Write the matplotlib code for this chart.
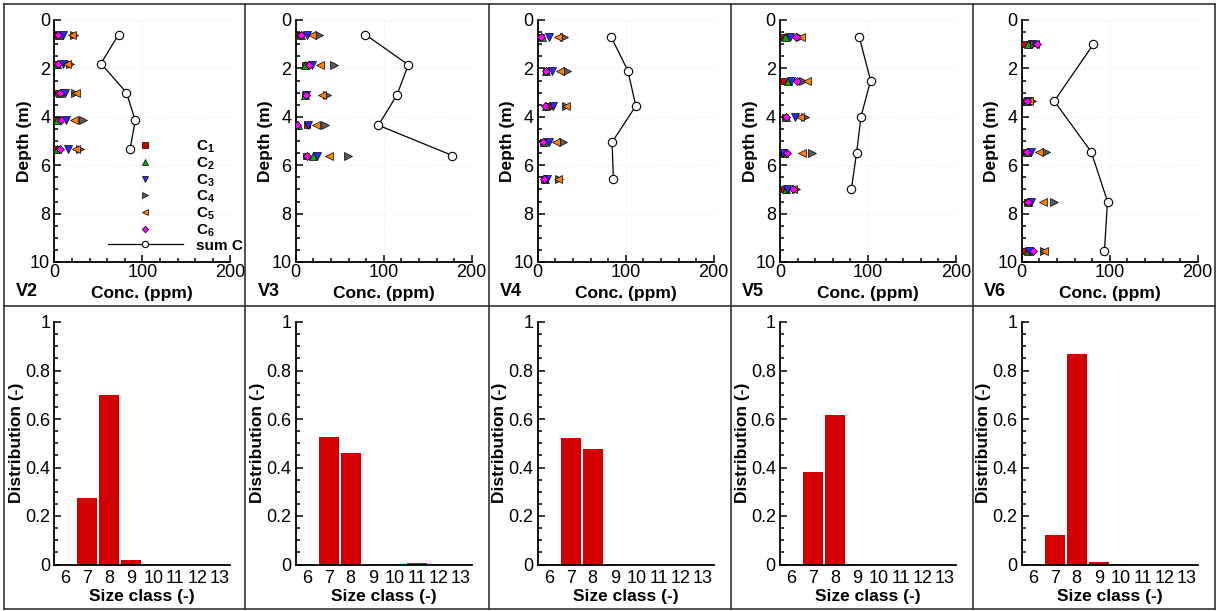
import matplotlib
matplotlib.use("Agg")
import matplotlib.pyplot as plt
from matplotlib.lines import Line2D
from matplotlib.ticker import MultipleLocator

plt.rcParams['font.family'] = ['Liberation Sans', 'DejaVu Sans']
plt.rcParams['mathtext.fontset'] = 'custom'
plt.rcParams['mathtext.rm'] = 'Liberation Sans'
plt.rcParams['mathtext.bf'] = 'Liberation Sans:bold'

# ---------------- data ----------------
stations = ["V2", "V3", "V4", "V5", "V6"]

depth_V2 = [0.6, 1.8, 3.0, 4.15, 5.35]
depth_V3 = [0.6, 1.85, 3.1, 4.35, 5.6]
depth_V4 = [0.7, 2.1, 3.55, 5.05, 6.55]
depth_V5 = [0.7, 2.5, 4.0, 5.5, 7.0]
depth_V6 = [1.0, 3.35, 5.45, 7.5, 9.55]

C1_V2 = [3, 1, 4, 1.5, 1.5]
C2_V2 = [5, 3, 6, 3, 3]
C3_V2 = [10, 10, 12, 13, 15]
C4_V2 = [22, 18, 23.5, 33, 29]
C5_V2 = [20, 14, 25, 22, 25]
C6_V2 = [4.5, 4, 6, 8, 6.5]
sumC_V2 = [73, 53, 82, 92, 86]

C1_V3 = [5, 10, 10, 13, 12]
C2_V3 = [6, 10.5, 11, 3, 20]
C3_V3 = [12.5, 18, 12, 14, 24]
C4_V3 = [27, 43, 35, 33, 59]
C5_V3 = [19, 27.5, 29.5, 23, 38]
C6_V3 = [6, 15, 11.5, 1, 12.5]
sumC_V3 = [79, 128, 115, 94, 178]

C1_V4 = [4, 9, 13, 6, 7]
C2_V4 = [5, 9, 9, 7, 8]
C3_V4 = [13.3, 16, 17.8, 13.3, 11]
C4_V4 = [30, 33.8, 32, 28.5, 24]
C5_V4 = [22.8, 25.4, 32, 20.5, 23.5]
C6_V4 = [3.8, 9, 8.3, 6.5, 7.6]
sumC_V4 = [83.5, 102.5, 111.5, 84.5, 86]

C1_V5 = [5, 3.8, 6, 3, 4.9]
C2_V5 = [5.7, 8.7, 6.5, 4, 6.5]
C3_V5 = [11.4, 12.5, 17, 3.8, 8]
C4_V5 = [23, 26.6, 28.5, 36.8, 17.8]
C5_V5 = [23.5, 30.4, 22.8, 24.7, 15]
C6_V5 = [17.8, 19, 6.8, 8.3, 15.2]
sumC_V5 = [90, 103, 92, 87, 81]

C1_V6 = [3, 5, 5, 6, 3.8]
C2_V6 = [6.8, 6, 6, 7, 6.8]
C3_V6 = [12, 7, 10.6, 10.6, 8]
C4_V6 = [14, 11.4, 27.3, 36.7, 25.4]
C5_V6 = [15, 8, 20, 24.6, 25.4]
C6_V6 = [17.8, 5.7, 5.7, 7.6, 13.3]
sumC_V6 = [81.5, 37, 79, 97.5, 94]

size_classes = [6, 7, 8, 9, 10, 11, 12, 13]
dist_V2 = [0, 0.275, 0.70, 0.02, 0, 0, 0, 0]
dist_V3 = [0, 0.527, 0.46, 0, 0, 0.005, 0, 0]
dist_V4 = [0, 0.52, 0.478, 0, 0, 0, 0, 0]
dist_V5 = [0, 0.383, 0.615, 0, 0, 0, 0, 0]
dist_V6 = [0, 0.122, 0.868, 0.01, 0, 0, 0, 0]

series_labels = [r'$\mathbf{C}_\mathbf{1}$', r'$\mathbf{C}_\mathbf{2}$', r'$\mathbf{C}_\mathbf{3}$',
                 r'$\mathbf{C}_\mathbf{4}$', r'$\mathbf{C}_\mathbf{5}$', r'$\mathbf{C}_\mathbf{6}$']
sum_label = 'sum C'

profiles = {
    "V2": (depth_V2, [C1_V2, C2_V2, C3_V2, C4_V2, C5_V2, C6_V2], sumC_V2, dist_V2),
    "V3": (depth_V3, [C1_V3, C2_V3, C3_V3, C4_V3, C5_V3, C6_V3], sumC_V3, dist_V3),
    "V4": (depth_V4, [C1_V4, C2_V4, C3_V4, C4_V4, C5_V4, C6_V4], sumC_V4, dist_V4),
    "V5": (depth_V5, [C1_V5, C2_V5, C3_V5, C4_V5, C5_V5, C6_V5], sumC_V5, dist_V5),
    "V6": (depth_V6, [C1_V6, C2_V6, C3_V6, C4_V6, C5_V6, C6_V6], sumC_V6, dist_V6),
}

# ---------------- style ----------------
markers = ['s', '^', 'v', '>', '<', 'D']
colors = ['#cc0000', '#00a800', '#2a2aff', '#5a5a5a', '#ff8000', '#ff00ff']
msizes = [5, 5.5, 5.5, 5.5, 5.5, 4.5]
bar_color = '#d20000'

W, H = 1221, 611
fig = plt.figure(figsize=(W / 100, H / 100), dpi=100)

lefts_px = [54.3, 295.7, 537.7, 780, 1021.7]
ax_w_px = 176
top_ax = (20, 262)
bot_ax = (322, 564.5)

tick_fs = 13
lab_fs = 12.5


def style_axis(ax):
    for s in ['top', 'right']:
        ax.spines[s].set_visible(False)
    for s in ['left', 'bottom']:
        ax.spines[s].set_linewidth(1.3)
    ax.tick_params(which='both', direction='in', width=1.1, labelsize=tick_fs)
    ax.tick_params(which='major', length=5)
    ax.tick_params(which='minor', length=3)
    ax.tick_params(axis='x', pad=1.5)
    ax.tick_params(axis='y', pad=3)


for i, st in enumerate(stations):
    depth, cs, sumc, dist = profiles[st]
    l = lefts_px[i] / W
    w = ax_w_px / W

    # ---- top: concentration profile ----
    ax = fig.add_axes([l, 1 - top_ax[1] / H, w, (top_ax[1] - top_ax[0]) / H])
    style_axis(ax)
    ax.set_xlim(0, 200)
    ax.set_ylim(10, 0)
    ax.xaxis.set_major_locator(MultipleLocator(100))
    ax.xaxis.set_minor_locator(MultipleLocator(20))
    ax.yaxis.set_major_locator(MultipleLocator(2))
    ax.yaxis.set_minor_locator(MultipleLocator(0.5))
    ax.grid(True, which='major', color='#f0f0f0', lw=0.8, ls=(0, (2, 2)))
    ax.set_axisbelow(True)
    handles = []
    for k in range(6):
        h, = ax.plot(cs[k], depth, ls='none', marker=markers[k], ms=msizes[k],
                     mfc=colors[k], mec='black', mew=0.5, zorder=3 + k)
        handles.append(h)
    hs, = ax.plot(sumc, depth, color='black', lw=0.9, marker='o', ms=6,
                  mfc='white', mec='black', mew=0.8, zorder=10)
    handles.append(hs)
    ax.set_xlabel('Conc. (ppm)', fontsize=lab_fs, fontweight='bold')
    ax.set_ylabel('Depth (m)', fontsize=lab_fs, fontweight='bold')
    ax.xaxis.set_label_coords(0.5, -0.1)
    ax.yaxis.set_label_coords(-0.127, 0.5)
    for lab in ax.get_xticklabels() + ax.get_yticklabels():
        lab.set_clip_on(False)

    if i == 0:
        ax.legend(handles, series_labels + [sum_label], loc='upper left',
                  bbox_to_anchor=(108 / W, 1 - 138.5 / H),
                  bbox_transform=fig.transFigure,
                  frameon=False, prop={'weight': 'bold', 'size': 11},
                  handlelength=4.9, handletextpad=0.85, labelspacing=0.0,
                  borderpad=0, borderaxespad=0, markerscale=0.75)

    fig.text((lefts_px[i] - 38) / W, 1 - 292 / H, st, fontsize=13, fontweight='bold',
             ha='left', va='center')

    # ---- bottom: size distribution ----
    axb = fig.add_axes([l, 1 - bot_ax[1] / H, w, (bot_ax[1] - bot_ax[0]) / H])
    style_axis(axb)
    axb.bar(size_classes, dist, width=0.9, color=bar_color, edgecolor='none')
    axb.set_xlim(5.5, 13.5)
    axb.set_ylim(0, 1)
    axb.set_xticks(size_classes)
    axb.tick_params(axis='x', which='both', length=0, pad=4)
    axb.yaxis.set_minor_locator(MultipleLocator(0.05))
    axb.set_yticks([0, 0.2, 0.4, 0.6, 0.8, 1.0])
    axb.set_yticklabels(['0', '0.2', '0.4', '0.6', '0.8', '1'])
    axb.set_xlabel('Size class (-)', fontsize=lab_fs, fontweight='bold')
    axb.set_ylabel('Distribution (-)', fontsize=lab_fs, fontweight='bold')
    axb.xaxis.set_label_coords(0.5, -0.1)
    axb.yaxis.set_label_coords(-0.172, 0.5)

# ---- panel frames ----
xs = [3.5, 245, 489.3, 731, 973, 1215]
ys = [4.3, 306, 609]
for x in xs:
    fig.add_artist(Line2D([x / W, x / W], [1 - ys[0] / H, 1 - ys[-1] / H],
                          transform=fig.transFigure, color='#333333', lw=1.2))
for y in ys:
    fig.add_artist(Line2D([xs[0] / W, xs[-1] / W], [1 - y / H, 1 - y / H],
                          transform=fig.transFigure, color='#333333', lw=1.2))

fig.savefig('out.png', dpi=100)
